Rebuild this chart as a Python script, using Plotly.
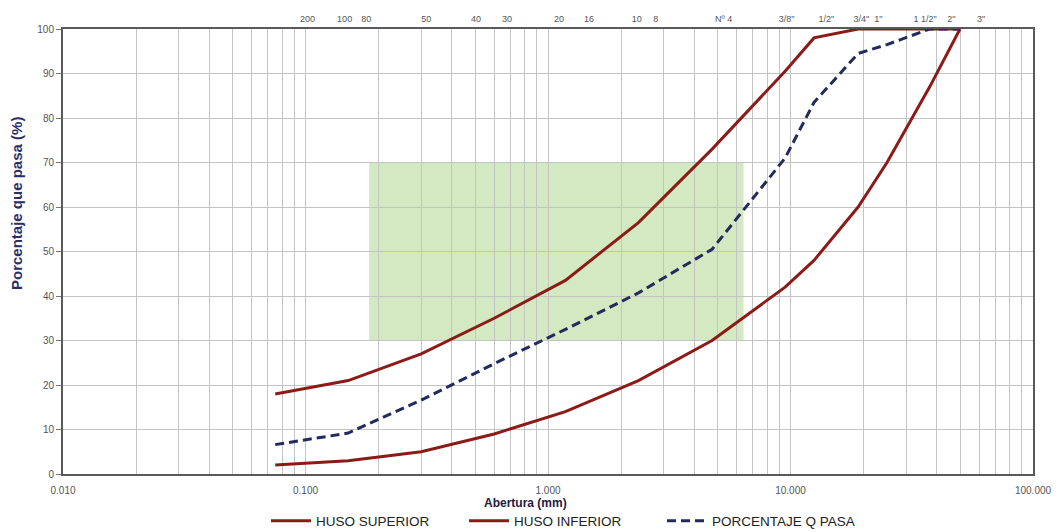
import plotly.graph_objects as go

# Sieve openings (mm) and percent passing for each curve
sieve_mm = [0.075, 0.15, 0.3, 0.6, 1.18, 2.36, 4.75, 9.5, 12.5, 19.0, 25.0, 37.5, 50.0]
huso_superior = [18, 21, 27, 35, 43.5, 56.5, 73, 90.5, 98, 100, 100, 100, 100]
huso_inferior = [2, 3, 5, 9, 14, 21, 30, 42, 48, 60, 70, 87, 100]
porcentaje_pasa = [6.6, 9.2, 16.6, 24.8, 32.5, 40.7, 50.5, 71, 83.5, 94.5, 96.5, 100, 100]

# Sieve designations printed along the top edge, and where they sit (mm)
sieve_names = ["200", "100", "80", "50", "40", "30", "20", "16", "10", "8",
               "Nº 4", "3/8\"", "1/2\"", "3/4\"", "1\"", "1 1/2\"", "2\"", "3\""]
sieve_label_mm = [0.102, 0.145, 0.178, 0.315, 0.505, 0.678, 1.11, 1.475, 2.32, 2.78,
                  5.3, 9.63, 14.06, 19.6, 23.0, 35.9, 46.0, 61.1]

# Bottom axis: decade labels, blank minor lines in between
decades = [0.01, 0.1, 1, 10, 100]
grid_vals = []
grid_text = []
for d in decades[:-1]:
    for k in range(1, 10):
        grid_vals.append(round(k * d, 6))
        grid_text.append(f"{k * d:.3f}" if k == 1 else "")
grid_vals.append(100)
grid_text.append("100.000")

# Highlighted zone
zone_x = (0.183, 6.4)
zone_y = (30, 70)

RED = "#8c1a17"
NAVY = "#232a5c"

fig = go.Figure()
fig.add_trace(go.Scatter(x=sieve_mm, y=huso_superior, mode="lines", name="HUSO SUPERIOR",
                         line=dict(color=RED, width=3)))
fig.add_trace(go.Scatter(x=sieve_mm, y=huso_inferior, mode="lines", name="HUSO INFERIOR",
                         line=dict(color=RED, width=3)))
fig.add_trace(go.Scatter(x=sieve_mm, y=porcentaje_pasa, mode="lines", name="PORCENTAJE Q PASA",
                         line=dict(color=NAVY, width=3, dash="9px,5px")))
# invisible trace to carry the top (sieve) axis
fig.add_trace(go.Scatter(x=[sieve_mm[0], sieve_mm[-1]], y=[0, 0], xaxis="x2", mode="lines",
                         line=dict(width=0), showlegend=False, hoverinfo="skip"))

fig.add_shape(type="rect", xref="x", yref="y", x0=zone_x[0], x1=zone_x[1],
              y0=zone_y[0], y1=zone_y[1], fillcolor="#d2e9c2", line=dict(width=0),
              layer="below")

fig.update_layout(
    width=1060, height=532,
    margin=dict(l=63, r=27, t=29, b=58, autoexpand=False),
    paper_bgcolor="white", plot_bgcolor="white",
    font=dict(family="Liberation Sans, Arial, sans-serif", color="#444"),
    xaxis=dict(type="log", range=[-2, 2], tickvals=grid_vals, ticktext=grid_text,
               showgrid=True, gridcolor="#c4c4c4", gridwidth=1,
               showline=True, linecolor="#5a5a5a", linewidth=2, mirror=True,
               ticks="", tickfont=dict(size=10, color="#555"), zeroline=False,
               ticklabelstandoff=6),
    xaxis2=dict(type="log", range=[-2, 2], overlaying="x", side="top",
                tickvals=sieve_label_mm, ticktext=sieve_names, showgrid=False,
                showline=False, ticks="", tickfont=dict(size=9, color="#555"),
                ticklabelstandoff=4, zeroline=False),
    yaxis=dict(range=[0, 100], dtick=10, showgrid=True, gridcolor="#c4c4c4", gridwidth=1,
               showline=True, linecolor="#5a5a5a", linewidth=2, mirror=True,
               ticks="outside", ticklen=5, tickcolor="#777",
               tickfont=dict(size=10, color="#555"), zeroline=False),
    legend=dict(orientation="h", x=(266 - 63) / 970, xanchor="left",
                y=(474 - 521) / 445, yanchor="middle",
                font=dict(size=13.5, color="#222"), bgcolor="rgba(0,0,0,0)",
                itemwidth=40, entrywidth=143),
    showlegend=True,
)

fig.add_annotation(text="<b>Porcentaje que pasa (%)</b>", xref="paper", yref="paper",
                   x=(17 - 63) / 970, y=(474 - 204) / 445, xanchor="center", yanchor="middle",
                   textangle=-90, showarrow=False, font=dict(size=15, color="#2a2f6a"))
fig.add_annotation(text="<b>Abertura (mm)</b>", xref="paper", yref="paper",
                   x=(525 - 63) / 970, y=(474 - 503) / 445, xanchor="center", yanchor="middle",
                   showarrow=False, font=dict(size=12, color="#1e2040"))

fig.write_html("out.html")
